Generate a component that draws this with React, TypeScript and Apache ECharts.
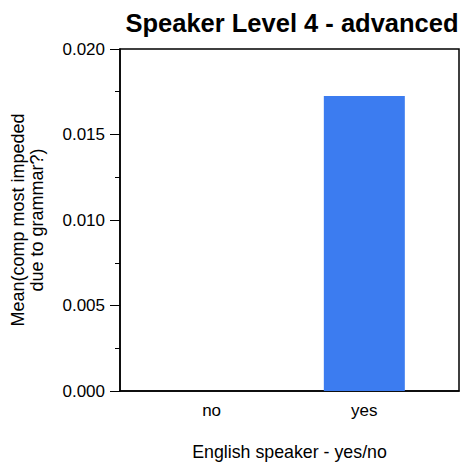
import React, { useEffect, useRef } from "react";
import * as echarts from "echarts";

const categories = ["no", "yes"];
const meanValues = [0, 0.01725];
const yTicks = [0, 0.005, 0.01, 0.015, 0.02];
const titleText = "Speaker Level 4 - advanced";
const xAxisTitle = "English speaker - yes/no";
const yAxisTitle = "Mean(comp most impeded\ndue to grammar?)";

const FONT = "'Liberation Sans', Arial, sans-serif";

export default function App() {
  const ref = useRef<HTMLDivElement>(null);
  useEffect(() => {
    if (!ref.current) return;
    const chart = echarts.init(ref.current, null, { renderer: "svg" });
    const data = meanValues.map((v, i) => [i, v]);
    chart.setOption({
      animation: false,
      backgroundColor: "#ffffff",
      title: {
        text: titleText,
        left: 287,
        top: 5,
        textAlign: "center",
        textStyle: { fontFamily: FONT, fontWeight: "bold", fontSize: 25.5, color: "#000" },
      },
      grid: {
        left: 116,
        right: 13,
        top: 49,
        bottom: 76,
        show: true,
        borderColor: "#000",
        borderWidth: 1.5,
        backgroundColor: "transparent",
      },
      xAxis: {
        type: "value",
        min: -0.6,
        max: 1.62,
        name: xAxisTitle,
        nameLocation: "middle",
        nameGap: 52,
        nameTextStyle: { fontFamily: FONT, fontSize: 17.8, color: "#000" },
        axisLine: { show: true, onZero: false, lineStyle: { color: "#000", width: 1.5 } },
        axisTick: { show: false },
        splitLine: { show: false },
        axisLabel: {
          customValues: [0, 1],
          formatter: (v: number) => categories[Math.round(v)] ?? "",
          fontFamily: FONT,
          fontSize: 17,
          color: "#000",
          margin: 11,
        },
      },
      yAxis: {
        type: "value",
        min: yTicks[0],
        max: yTicks[yTicks.length - 1],
        interval: 0.005,
        name: yAxisTitle,
        nameLocation: "middle",
        nameRotate: 90,
        nameGap: 74,
        nameTextStyle: { fontFamily: FONT, fontSize: 18, color: "#000", lineHeight: 19, align: "center" },
        axisLine: { show: true, onZero: false, lineStyle: { color: "#000", width: 1.5 } },
        axisTick: { show: true, length: 10, lineStyle: { color: "#000", width: 1 } },
        minorTick: { show: true, splitNumber: 2, length: 5, lineStyle: { color: "#000", width: 1 } },
        splitLine: { show: false },
        axisLabel: {
          formatter: (v: number) => v.toFixed(3),
          fontFamily: FONT,
          fontSize: 17,
          color: "#000",
          margin: 15,
        },
      },
      series: [
        {
          type: "bar",
          data,
          barWidth: 81,
          itemStyle: { color: "#3c7cf0" },
        },
      ],
    });
    return () => chart.dispose();
  }, []);
  return <div ref={ref} style={{ width: 472, height: 467, position: "absolute", left: 0, top: 0 }} />;
}
